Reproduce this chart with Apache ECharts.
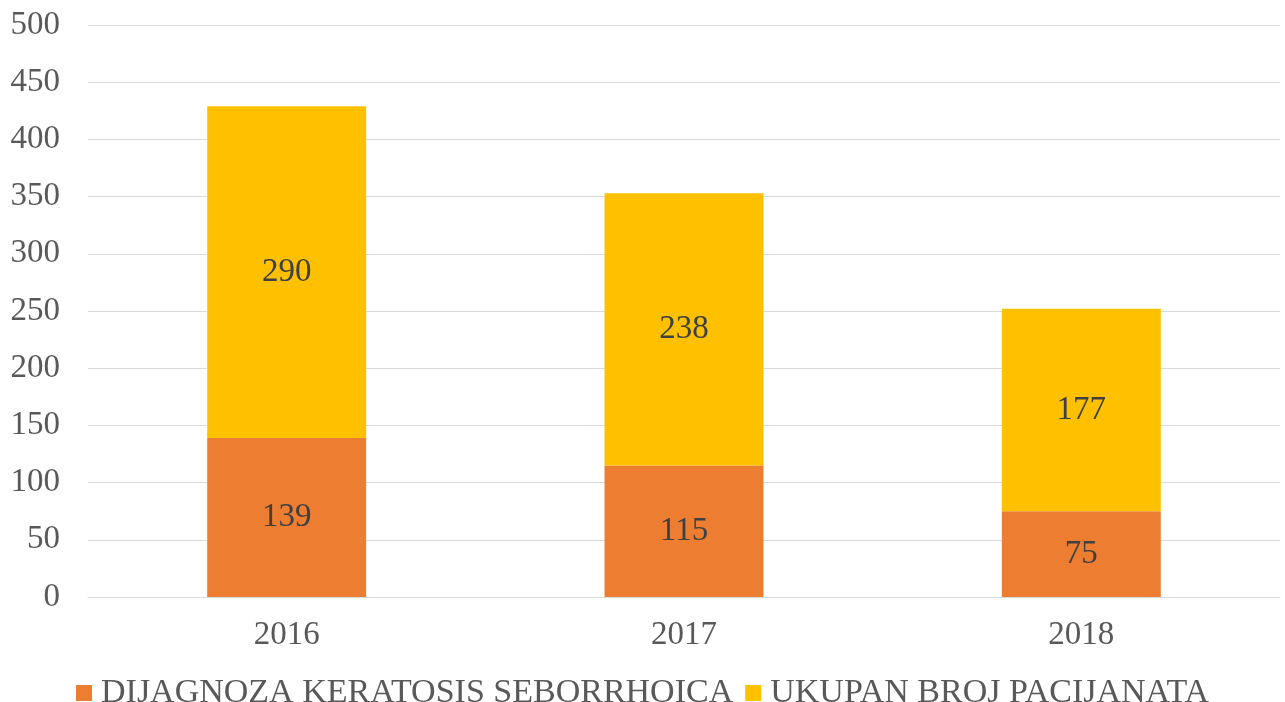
<!DOCTYPE html>
<html>
<head>
<meta charset="utf-8">
<script src="https://cdn.jsdelivr.net/npm/echarts@6/dist/echarts.min.js"></script>
<style>
  html, body { margin: 0; padding: 0; background: #fff; }
  #chart { width: 1285px; height: 702px; }
</style>
</head>
<body>
<div id="chart"></div>
<script>
const years = ['2016', '2017', '2018']
const seriesNames = ['DIJAGNOZA KERATOSIS SEBORRHOICA', 'UKUPAN BROJ PACIJANATA']
const keratosis = [139, 115, 75]
const ukupno = [290, 238, 177]

const font = 'Liberation Serif, Times New Roman, serif'

const chart = echarts.init(document.getElementById('chart'))
chart.setOption({
  animation: false,
  color: ['#ED7D31', '#FFC000'],
  textStyle: { fontFamily: font },
  grid: { left: 88, right: 5, top: 25, bottom: 105 },
  legend: {
    top: 671,
    left: 'center',
    itemWidth: 16,
    itemHeight: 16,
    itemGap: 12,
    icon: 'rect',
    textStyle: { fontFamily: font, fontSize: 34, color: '#595959', padding: [0, 0, 0, 4] },
    data: seriesNames
  },
  xAxis: {
    type: 'category',
    data: years,
    axisLine: { lineStyle: { color: '#d9d9d9' } },
    axisTick: { show: false },
    axisLabel: { fontFamily: font, fontSize: 33, color: '#595959', margin: 22 }
  },
  yAxis: {
    type: 'value',
    min: 0,
    max: 500,
    interval: 50,
    axisLine: { show: false },
    axisTick: { show: false },
    splitLine: { lineStyle: { color: '#d9d9d9', width: 1 } },
    axisLabel: { fontFamily: font, fontSize: 33, color: '#595959', margin: 28 }
  },
  series: [
    {
      name: seriesNames[0],
      type: 'bar',
      stack: 'total',
      barWidth: '40%',
      data: keratosis,
      label: { show: true, position: 'inside', fontFamily: font, fontSize: 33, color: '#404040' }
    },
    {
      name: seriesNames[1],
      type: 'bar',
      stack: 'total',
      barWidth: '40%',
      data: ukupno,
      label: { show: true, position: 'inside', fontFamily: font, fontSize: 33, color: '#404040' }
    }
  ]
})
</script>
</body>
</html>
